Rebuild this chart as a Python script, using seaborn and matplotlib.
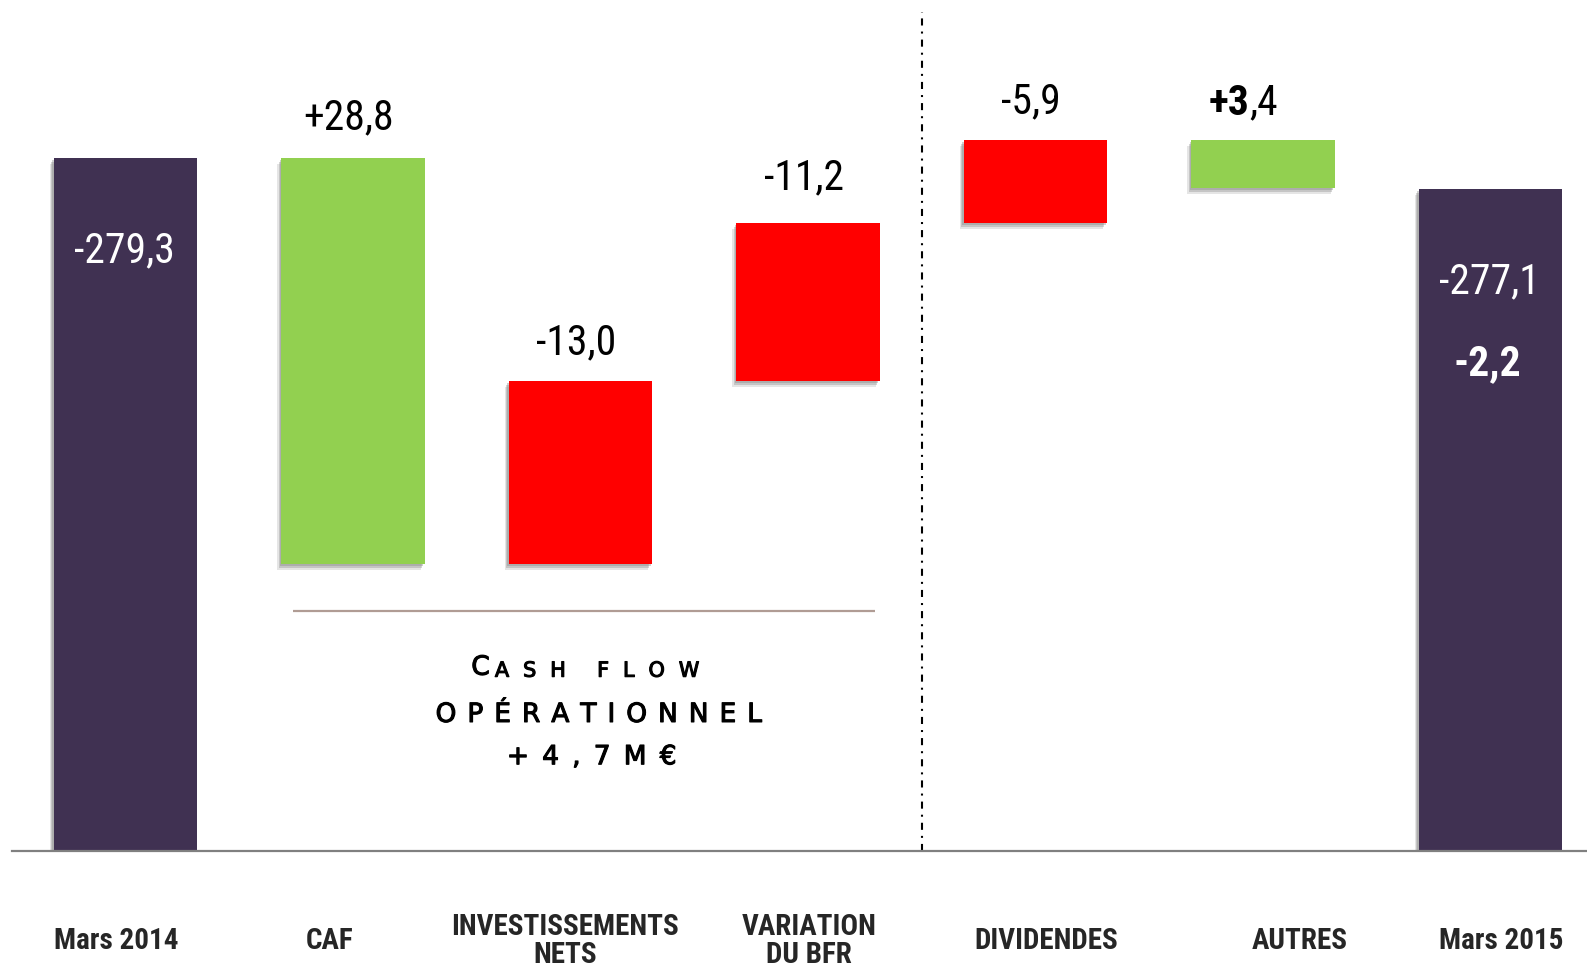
import numpy as np
import pandas as pd
import seaborn as sns
import matplotlib.pyplot as plt
import matplotlib.patheffects as pe
from matplotlib import font_manager

# Data (M€) - first and last entries are the net debt totals
categories = ['Mars 2014', 'CAF', 'INVESTISSEMENTS\nNETS', 'VARIATION\nDU BFR',
              'DIVIDENDES', 'AUTRES', 'Mars 2015']
flows = [-279.3, 28.8, -13.0, -11.2, -5.9, 3.4, -277.1]
is_total = [True, False, False, False, False, False, True]
bold_head = [False, False, False, False, False, True, False]   # "+3,4" has a bold "+3"
variation = -2.2
cash_flow_lines = ['CASH FLOW', 'OPÉRATIONNEL', '+4,7M€']

# layout tweaks
label_shift = [-0.042, -0.105, -0.068, 0.004, 0.046, 0.163, 0.046]   # category units
label_dy = [-66, 30, 28, 33, 28, 27, -66]                             # points

sns.set_theme(style='white')
names = {f.name for f in font_manager.fontManager.ttflist}
narrow = next((n for n in ['Liberation Sans Narrow', 'Roboto Condensed', 'Arial Narrow']
               if n in names), 'Liberation Sans')
plt.rcParams['font.family'] = [narrow, 'DejaVu Sans']

# waterfall on the debt level (higher = more debt)
lows, highs = [], []
level = 0.0
for v, tot in zip(flows, is_total):
    if tot:
        level = -v
        lows.append(0.0)
        highs.append(level)
    else:
        new = level - v
        lows.append(min(level, new))
        highs.append(max(level, new))
        level = new

df = pd.DataFrame({'cat': categories,
                   'low': lows,
                   'height': np.array(highs) - np.array(lows)})

colors = ['#403152' if t else ('#92D050' if v > 0 else '#FF0000')
          for v, t in zip(flows, is_total)]

fig = plt.figure(figsize=(15.87, 9.70), dpi=100)
ax = fig.add_axes([12 / 1587, 118 / 970, 1 - 12 / 1587, 852 / 970])

sns.barplot(data=df, x='cat', y='height', order=categories, bottom=df['low'].to_numpy(),
            width=0.63, errorbar=None, saturation=1, color='#403152', linewidth=0, ax=ax)

shadow = [pe.SimplePatchShadow(offset=(-1, -1.5), shadow_rgbFace='#666666', alpha=0.3),
          pe.SimplePatchShadow(offset=(-2, -3), shadow_rgbFace='#777777', alpha=0.3),
          pe.SimplePatchShadow(offset=(-3, -4.5), shadow_rgbFace='#999999', alpha=0.25),
          pe.Normal()]
for patch, c in zip(ax.patches, colors):
    patch.set_facecolor(c)
    patch.set_path_effects(shadow)

ax.set_ylim(230.15, 290.58)
ax.set_xlim(-0.499, 6.424)

# value labels
for i, (v, t) in enumerate(zip(flows, is_total)):
    txt = f'{v:+.1f}'.replace('.', ',')
    if t:
        ax.annotate(txt, xy=(i, highs[i]), xytext=(-1, label_dy[i]), textcoords='offset points',
                    ha='center', va='center', fontsize=30, color='white')
    elif bold_head[i]:
        head, tail = txt.split(',')
        th = ax.annotate(head, xy=(i, highs[i]), xytext=(-10, label_dy[i]),
                         textcoords='offset points', ha='right', va='center',
                         fontsize=30, fontweight='bold', color='black')
        ax.annotate(',' + tail, xy=(1, 0), xycoords=th, ha='left', va='bottom',
                    fontsize=30, color='black')
    else:
        ax.annotate(txt, xy=(i, highs[i]), xytext=(-3, label_dy[i]), textcoords='offset points',
                    ha='center', va='center', fontsize=30, color='black')

# overall variation inside the last bar
ax.annotate(f'{variation:+.1f}'.replace('.', ','), xy=(6, highs[6]), xytext=(-2, -125),
            textcoords='offset points', ha='center', va='center',
            fontsize=30, fontweight='bold', color='white')

# operating cash flow bracket
ax.plot([0.736, 3.295], [247.2, 247.2], color='#B09C94', lw=1.6, solid_capstyle='butt', zorder=3)
medium = [pe.withStroke(linewidth=0.8, foreground='black')]
cf = dict(family='DejaVu Sans', color='black', path_effects=medium)
c1 = ax.text(1.52, 243.15, cash_flow_lines[0][0], ha='left', va='center', fontsize=19, **cf)
rest = cash_flow_lines[0][1:].split(' ')
rest_txt = '\u2005' + '\u2003\u2002'.join('\u2002\u2006'.join(w) for w in rest)
ax.annotate(rest_txt, xy=(1, 0), xycoords=c1, ha='left', va='bottom', fontsize=15, **cf)
ax.text(2.08, 239.8, '\u2005\u2006'.join(cash_flow_lines[1]), ha='center', va='center',
        fontsize=19, **cf)
ax.text(2.05, 236.8, '\u2002'.join(cash_flow_lines[2]), ha='center', va='center',
        fontsize=19, **cf)

# separator between operating and other flows
ax.axvline(3.5, ymin=0, ymax=0.985, color='black', lw=1.5,
           linestyle=(0, (3.4, 2.9, 0.96, 2.9)))

# axes styling
sns.despine(ax=ax, left=True, top=True, right=True)
ax.spines['bottom'].set_color('#808080')
ax.spines['bottom'].set_linewidth(1.6)
ax.set_yticks([])
ax.set_xlabel('')
ax.set_ylabel('')
ax.set_xticks(np.arange(len(categories)) + np.array(label_shift), labels=categories)
ax.tick_params(axis='x', length=0, pad=64)
for lbl in ax.get_xticklabels():
    lbl.set_fontsize(21)
    lbl.set_fontweight('bold')
    lbl.set_va('center')
    lbl.set_linespacing(1.0)

fig.savefig('out.png', dpi=100)
